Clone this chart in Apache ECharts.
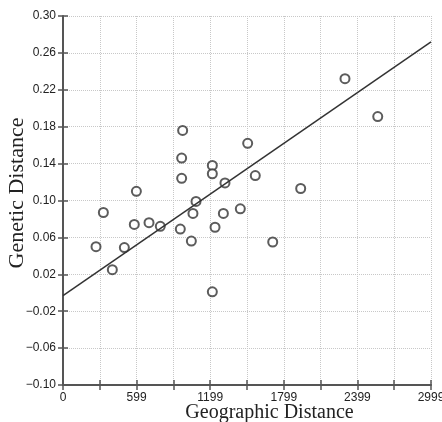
<!DOCTYPE html>
<html>
<head>
<meta charset="utf-8">
<script src="https://cdn.jsdelivr.net/npm/echarts@6/dist/echarts.min.js"></script>
<style>
  html, body { margin: 0; padding: 0; background: #fff; }
  #chart { width: 442px; height: 422px; }
</style>
</head>
<body>
<div id="chart"></div>
<script>
// geographic distance (x) and genetic distance (y) of each pair
const geoDist = [269, 329, 402, 500, 598, 581, 701, 793, 975, 967, 967, 956, 1046, 1059,
  1084, 1217, 1217, 1217, 1239, 1320, 1307, 1445, 1505, 1567, 2298, 2565, 1937, 1709];
const genDist = [0.050, 0.087, 0.025, 0.049, 0.110, 0.074, 0.076, 0.072, 0.176, 0.146, 0.124, 0.069, 0.056, 0.086,
  0.099, 0.138, 0.129, 0.001, 0.071, 0.119, 0.086, 0.091, 0.162, 0.127, 0.232, 0.191, 0.113, 0.055];
// fitted regression line end points
const fitX = [0, 2999];
const fitY = [-0.003, 0.272];

const xMin = 0, xMax = 2999, xStep = 299.9;
const yMin = -0.10, yMax = 0.30, yStep = 0.04;

const points = geoDist.map((x, i) => [x, genDist[i]]);
const fitLine = fitX.map((x, i) => [x, fitY[i]]);

const axisColor = "#555";
const labelColor = "#222";
const gridLine = { show: true, lineStyle: { color: "#c8c8c8", type: "dotted", width: 1 } };

const chart = echarts.init(document.getElementById("chart"));
chart.setOption({
  animation: false,
  grid: { left: 63, right: 11, top: 16, bottom: 37, containLabel: false, outerBoundsMode: "none" },
  xAxis: [
    {
      type: "value",
      min: xMin,
      max: xMax,
      interval: xStep,
      name: "Geographic Distance",
      nameLocation: "middle",
      nameMoveOverlap: false,
      nameGap: 18,
      nameTextStyle: {
        fontFamily: "Liberation Serif",
        fontSize: 20,
        color: "#222",
        padding: [0, 0, 0, 45],
      },
      axisLine: { onZero: false, lineStyle: { color: axisColor, width: 2 } },
      axisTick: { show: true, length: 5, lineStyle: { color: axisColor, width: 1.5 } },
      axisLabel: {
        margin: 7,
        fontFamily: "Liberation Sans",
        fontSize: 12,
        color: labelColor,
        formatter: (v, i) => (i % 2 === 0 ? String(Math.floor(v + 1e-6)) : ""),
      },
      splitLine: gridLine,
    },
    {
      // inner half of the ticks
      type: "value",
      position: "bottom",
      min: xMin,
      max: xMax,
      interval: xStep,
      axisLine: { show: false, onZero: false },
      axisTick: { show: true, inside: true, length: 5, lineStyle: { color: axisColor, width: 1.5 } },
      axisLabel: { show: false },
      splitLine: { show: false },
    },
  ],
  yAxis: [
    {
      type: "value",
      min: yMin,
      max: yMax,
      interval: yStep,
      name: "Genetic Distance",
      nameLocation: "middle",
      nameMoveOverlap: false,
      nameGap: 35,
      nameTextStyle: {
        fontFamily: "Liberation Serif",
        fontSize: 22,
        color: "#222",
        padding: [0, 0, 0, 15],
      },
      axisLine: { onZero: false, lineStyle: { color: axisColor, width: 2 } },
      axisTick: { show: true, length: 5, lineStyle: { color: axisColor, width: 1.5 } },
      axisLabel: {
        margin: 7,
        fontFamily: "Liberation Sans",
        fontSize: 12,
        color: labelColor,
        formatter: (v) => v.toFixed(2).replace("-", "\u2212"),
      },
      splitLine: gridLine,
    },
    {
      type: "value",
      position: "left",
      min: yMin,
      max: yMax,
      interval: yStep,
      axisLine: { show: false, onZero: false },
      axisTick: { show: true, inside: true, length: 5, lineStyle: { color: axisColor, width: 1.5 } },
      axisLabel: { show: false },
      splitLine: { show: false },
    },
  ],
  series: [
    {
      type: "line",
      data: fitLine,
      showSymbol: false,
      lineStyle: { color: "#333", width: 1.5 },
      silent: true,
    },
    {
      type: "scatter",
      data: points,
      symbol: "emptyCircle",
      symbolSize: 9,
      itemStyle: { color: "#333", borderColor: "#333", borderWidth: 1.5 },
    },
  ],
});
</script>
</body>
</html>
